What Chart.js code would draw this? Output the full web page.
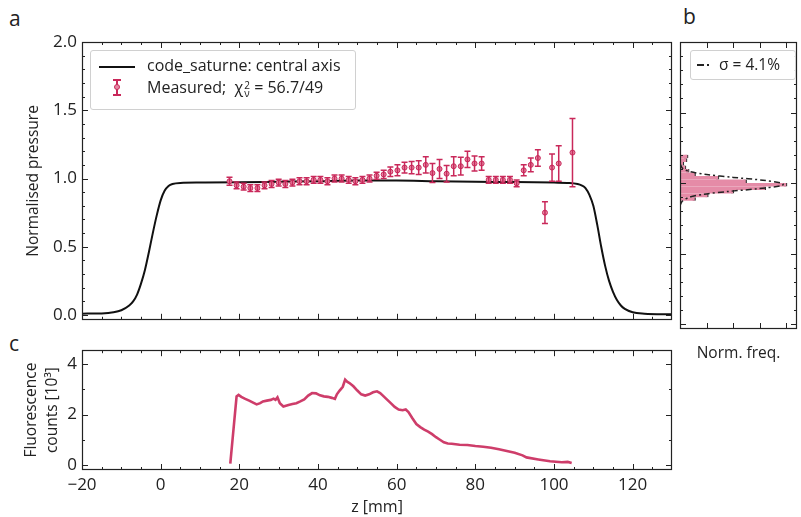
<!DOCTYPE html>
<html lang="en">
<head>
<meta charset="UTF-8" />
<title>Pressure profile and fluorescence</title>
<style>
  body { margin: 0; background: #fff; font-family: "Open Sans", sans-serif; color: #222; }
  #wrap { position: relative; width: 801px; height: 517px; overflow: hidden; }
  .panel { position: absolute; }
  .letter { position: absolute; font-size: 21px; line-height: 1; }
  .legend { position: absolute; background: rgba(255,255,255,0.9); border: 1px solid #d0d0d0; border-radius: 3px; font-size: 16px; }
  .legend .txt { position: absolute; white-space: nowrap; line-height: 1; }
  .ss { display: inline-block; vertical-align: -4px; line-height: 0.8; font-size: 10px; text-align: left; margin-left: 1px; }
  .ss span { display: block; }
</style>
</head>
<body>
<div id="wrap">
  <div class="letter" style="left:9px; top:8px;">a</div>
  <div class="letter" style="left:683px; top:6px;">b</div>
  <div class="letter" style="left:9px; top:333px;">c</div>

  <canvas id="chartA" class="panel" width="680" height="335" style="left:0; top:0;"></canvas>
  <canvas id="chartB" class="panel" width="129" height="335" style="left:672px; top:0;"></canvas>
  <canvas id="chartC" class="panel" width="680" height="182" style="left:0; top:335px;"></canvas>

  <div class="legend" style="left:90px; top:50px; width:264px; height:58px;">
    <div style="position:absolute; left:8px; top:15px; width:36px; height:2px; background:#111;"></div>
    <div class="txt" style="left:56px; top:6px;">code_saturne: central axis</div>
    <div style="position:absolute; left:25px; top:28px; width:1.5px; height:16px; background:#c9285a;"></div>
    <div style="position:absolute; left:22px; top:28px; width:8px; height:1.5px; background:#c9285a;"></div>
    <div style="position:absolute; left:22px; top:43px; width:8px; height:1.5px; background:#c9285a;"></div>
    <div style="position:absolute; left:23px; top:33px; width:4px; height:4px; border:1px solid #c9285a; border-radius:50%; background:#e48aa5;"></div>
    <div class="txt" style="left:56px; top:28px;">Measured;&nbsp; χ<span class="ss"><span>2</span><span>ν</span></span> = 56.7/49</div>
  </div>

  <div class="legend" style="left:690px; top:50px; width:104px; height:28px; font-size:15.5px;">
    <div style="position:absolute; left:6px; top:13px; width:7px; height:1.5px; background:#222;"></div>
    <div style="position:absolute; left:16px; top:13px; width:2px; height:1.5px; background:#222;"></div>
    <div class="txt" style="left:28px; top:6px;">σ = 4.1%</div>
  </div>

  <div style="position:absolute; left:680px; width:117px; top:341px; text-align:center; font-size:15.5px;">Norm. freq.</div>
</div>

<script src="https://cdn.jsdelivr.net/npm/chart.js"></script>
<script>
  // panel a: simulated central-axis profile
  const curveZ = [-20, -15, -12, -10, -8, -7, -6, -5, -4, -3, -2, -1, 0, 1, 2, 3, 5, 10, 20, 30, 40, 50, 60, 70, 80, 90, 100, 104, 106, 107, 108, 109, 110, 111, 112, 113, 114, 115, 116, 117, 118, 120, 123, 130];
  const curveP = [0.01, 0.012, 0.02, 0.035, 0.07, 0.1, 0.15, 0.23, 0.33, 0.46, 0.6, 0.73, 0.84, 0.91, 0.945, 0.96, 0.968, 0.97, 0.972, 0.976, 0.98, 0.985, 0.985, 0.98, 0.976, 0.974, 0.97, 0.968, 0.96, 0.95, 0.93, 0.88, 0.8, 0.66, 0.5, 0.36, 0.25, 0.17, 0.11, 0.07, 0.045, 0.02, 0.01, 0.005];

  // panel a: measured points
  const measZ = [17.5, 19.3, 21.1, 22.8, 24.6, 26.4, 28.2, 30.0, 31.7, 33.5, 35.3, 37.1, 38.9, 40.6, 42.4, 44.2, 46.0, 47.8, 49.5, 51.3, 53.1, 54.9, 56.7, 58.4, 60.2, 62.0, 63.8, 65.6, 67.4, 69.1, 70.9, 72.7, 74.5, 76.3, 78.0, 79.8, 81.6, 83.4, 85.2, 87.0, 88.8, 90.5, 92.3, 94.1, 95.9, 97.7, 99.5, 101.2, 104.7];
  const measP = [0.98, 0.95, 0.94, 0.93, 0.93, 0.95, 0.96, 0.97, 0.96, 0.97, 0.98, 0.98, 0.99, 0.99, 0.98, 1.0, 1.0, 0.99, 0.98, 0.99, 1.0, 1.02, 1.03, 1.05, 1.06, 1.08, 1.08, 1.08, 1.1, 1.04, 1.07, 1.035, 1.09, 1.09, 1.14, 1.11, 1.11, 0.99, 0.99, 0.99, 0.99, 0.965, 1.06, 1.1, 1.15, 0.75, 1.08, 1.11, 1.19];
  const measErr = [0.03, 0.025, 0.025, 0.025, 0.025, 0.025, 0.025, 0.025, 0.025, 0.025, 0.025, 0.025, 0.025, 0.025, 0.025, 0.025, 0.025, 0.025, 0.025, 0.025, 0.025, 0.025, 0.03, 0.035, 0.04, 0.04, 0.045, 0.05, 0.06, 0.07, 0.07, 0.06, 0.07, 0.065, 0.06, 0.055, 0.05, 0.025, 0.025, 0.025, 0.025, 0.025, 0.04, 0.05, 0.06, 0.08, 0.1, 0.13, 0.25];

  // panel b: histogram of measured/simulated and gaussian fit
  const histCentre = [0.8875, 0.9125, 0.9375, 0.9625, 0.9875, 1.0125, 1.0375, 1.0625, 1.0875, 1.1125, 1.1375, 1.1625, 1.1875];
  const histFreq = [0.14, 0.26, 0.5, 0.8, 1.0, 0.62, 0.36, 0.14, 0.08, 0.05, 0.03, 0.06, 0.07];
  const gaussP = [0.84, 0.87, 0.9, 0.92, 0.94, 0.96, 0.98, 0.99, 1.0, 1.02, 1.04, 1.06, 1.08, 1.1, 1.13, 1.16];
  const gaussFreq = [0.0, 0.02, 0.09, 0.22, 0.45, 0.74, 0.95, 0.97, 0.95, 0.78, 0.5, 0.25, 0.1, 0.03, 0.005, 0.0];

  // panel c: fluorescence counts [10^3]
  const fluoZ = [17.7, 19.3, 19.8, 20.5, 21.5, 22.5, 23.5, 24.4, 25.3, 26, 27, 28, 28.7, 29.2, 29.7, 30.3, 31.2, 32.5, 33.5, 34.5, 35.5, 36.5, 37.5, 38.5, 39.5, 40.5, 41.5, 42.5, 43.5, 44.3, 44.8, 45.5, 46.3, 46.9, 47.4, 48, 49, 50, 51, 52, 53, 54, 55, 55.8, 56.5, 57.5, 58.5, 59.5, 60.5, 61.5, 62.3, 63, 64, 65, 66, 67, 68, 69, 70, 71, 72, 73, 74, 75, 76, 78, 80, 82, 84, 86, 88, 90, 92, 93, 96, 99, 102, 103.5, 104.5];
  const fluoC = [0.05, 2.72, 2.78, 2.7, 2.62, 2.55, 2.47, 2.4, 2.45, 2.52, 2.55, 2.58, 2.63, 2.58, 2.68, 2.45, 2.32, 2.38, 2.42, 2.45, 2.52, 2.6, 2.75, 2.85, 2.84, 2.76, 2.72, 2.7, 2.66, 2.62, 2.8, 2.95, 3.1, 3.38, 3.3, 3.25, 3.12, 2.95, 2.8, 2.75, 2.8, 2.88, 2.92, 2.85, 2.75, 2.6, 2.45, 2.3, 2.2, 2.17, 2.2, 2.1, 1.85, 1.62, 1.5, 1.4, 1.32, 1.22, 1.1, 1.0, 0.9, 0.85, 0.84, 0.82, 0.8, 0.79, 0.75, 0.72, 0.68, 0.62, 0.55, 0.48, 0.38, 0.3, 0.22, 0.15, 0.11, 0.12, 0.08];

  // ticks
  const zTicks = [-20, 0, 20, 40, 60, 80, 100, 120];
  const pTicks = [0.0, 0.5, 1.0, 1.5, 2.0];
  const fluoTicks = [0, 2, 4];

  const pink = "#c9285a";
  const ink = "#222";
  Chart.defaults.font.family = "'Open Sans', sans-serif";
  Chart.defaults.color = ink;

  function steps(a, b, s) {
    const out = [];
    for (let v = a; v <= b + 1e-9; v += s) out.push(+v.toFixed(4));
    return out;
  }
  const minus = (v) => (v < 0 ? "\u2212" + Math.abs(v) : "" + v);

  // box round the plot area with inward ticks on all sides
  const framePlugin = {
    id: "frame",
    afterDraw(chart, args, opts) {
      if (!opts || !opts.on) return;
      const { ctx, chartArea: a, scales } = chart;
      ctx.save();
      ctx.strokeStyle = ink;
      ctx.lineWidth = 1;
      const seg = (x1, y1, x2, y2) => { ctx.beginPath(); ctx.moveTo(x1, y1); ctx.lineTo(x2, y2); ctx.stroke(); };
      const xs = (vals, len) => vals.forEach((v) => {
        const x = Math.round(scales.x.getPixelForValue(v)) + 0.5;
        if (x < a.left + 1 || x > a.right - 1) return;
        seg(x, a.bottom, x, a.bottom - len);
        seg(x, a.top, x, a.top + len);
      });
      const ys = (vals, len) => vals.forEach((v) => {
        const y = Math.round(scales.y.getPixelForValue(v)) + 0.5;
        if (y < a.top + 1 || y > a.bottom - 1) return;
        seg(a.left, y, a.left + len, y);
        seg(a.right, y, a.right - len, y);
      });
      xs(opts.xMinor || [], 3);
      xs(opts.xMajor || [], 6);
      ys(opts.yMinor || [], 3);
      ys(opts.yMajor || [], 6);
      ctx.lineWidth = 1.2;
      ctx.strokeRect(Math.round(a.left) + 0.5, Math.round(a.top) + 0.5, Math.round(a.width) - 1, Math.round(a.height) - 1);
      ctx.restore();
    }
  };

  // vertical error bars with caps for the measured set
  const errorPlugin = {
    id: "errbars",
    afterDatasetsDraw(chart, args, opts) {
      if (!opts || !opts.on) return;
      const { ctx, scales } = chart;
      ctx.save();
      ctx.strokeStyle = pink;
      ctx.lineWidth = 1.5;
      measZ.forEach((z, i) => {
        const x = scales.x.getPixelForValue(z);
        const y1 = scales.y.getPixelForValue(measP[i] - measErr[i]);
        const y2 = scales.y.getPixelForValue(measP[i] + measErr[i]);
        ctx.beginPath();
        ctx.moveTo(x, y1); ctx.lineTo(x, y2);
        ctx.moveTo(x - 3, y1); ctx.lineTo(x + 3, y1);
        ctx.moveTo(x - 3, y2); ctx.lineTo(x + 3, y2);
        ctx.stroke();
      });
      ctx.restore();
    }
  };

  Chart.register(framePlugin, errorPlugin);

  const baseY = (ticks, width, fmt) => ({
    grid: { display: false, drawTicks: false },
    border: { display: false },
    afterBuildTicks: (s) => { s.ticks = ticks.map((v) => ({ value: v })); },
    afterFit: (s) => { s.width = width; },
    ticks: { padding: 5, font: { size: 17 }, color: ink, callback: fmt }
  });

  // panel a
  new Chart(document.getElementById("chartA"), {
    type: "line",
    data: {
      datasets: [
        {
          type: "scatter",
          label: "Measured",
          data: measZ.map((z, i) => ({ x: z, y: measP[i] })),
          showLine: false,
          pointRadius: 2.5,
          pointBackgroundColor: "#e48aa5",
          pointBorderColor: pink,
          pointBorderWidth: 1,
          order: 0
        },
        {
          label: "code_saturne: central axis",
          data: curveZ.map((z, i) => ({ x: z, y: curveP[i] })),
          borderColor: "#111",
          borderWidth: 2,
          pointRadius: 0,
          cubicInterpolationMode: "monotone",
          order: 1
        }
      ]
    },
    options: {
      responsive: false,
      animation: false,
      layout: { padding: { left: 24, right: 8, top: 42, bottom: 6 } },
      plugins: {
        legend: { display: false },
        tooltip: { enabled: false },
        errbars: { on: true },
        frame: { on: true, xMajor: zTicks, xMinor: steps(-20, 130, 5), yMajor: pTicks, yMinor: steps(0, 2, 0.1) }
      },
      scales: {
        x: { type: "linear", min: -20, max: 130, display: false },
        y: Object.assign(baseY(pTicks, 58, (v) => v.toFixed(1)), {
          min: -0.035,
          max: 2.0,
          title: { display: true, text: "Normalised pressure", font: { size: 15.5 }, padding: 0 }
        })
      }
    }
  });

  // panel b
  new Chart(document.getElementById("chartB"), {
    type: "bar",
    data: {
      datasets: [
        {
          label: "hist",
          data: histCentre.map((p, i) => ({ x: histFreq[i], y: p })),
          backgroundColor: "#e58ba7",
          borderColor: "#333",
          borderWidth: { top: 0, bottom: 0, left: 0, right: 1.2 },
          borderSkipped: false,
          inflateAmount: 1,
          barPercentage: 1,
          categoryPercentage: 1,
          order: 1
        },
        {
          type: "line",
          label: "σ = 4.1%",
          data: gaussP.map((p, i) => ({ x: gaussFreq[i], y: p })),
          borderColor: "#222",
          borderWidth: 1.5,
          borderDash: [6, 3, 2, 3],
          pointRadius: 0,
          tension: 0.3,
          order: 0
        }
      ]
    },
    options: {
      indexAxis: "y",
      responsive: false,
      animation: false,
      layout: { padding: { left: 8, right: 4, top: 42, bottom: 6 } },
      plugins: {
        legend: { display: false },
        tooltip: { enabled: false },
        frame: { on: true, xMajor: [0.25, 0.5, 0.75, 1.0], xMinor: [], yMajor: pTicks, yMinor: steps(0, 2, 0.1) }
      },
      scales: {
        x: { type: "linear", min: 0, max: 1.1, offset: false, display: false },
        y: { type: "linear", min: -0.035, max: 2.0, offset: false, display: false }
      }
    }
  });

  // panel c
  new Chart(document.getElementById("chartC"), {
    type: "line",
    data: {
      datasets: [
        {
          label: "Fluorescence",
          data: fluoZ.map((z, i) => ({ x: z, y: fluoC[i] })),
          borderColor: "rgba(201, 40, 90, 0.9)",
          borderWidth: 2.6,
          pointRadius: 0,
          tension: 0
        }
      ]
    },
    options: {
      responsive: false,
      animation: false,
      layout: { padding: { left: 22, right: 8, top: 5, bottom: 0 } },
      plugins: {
        legend: { display: false },
        tooltip: { enabled: false },
        frame: { on: true, xMajor: zTicks, xMinor: steps(-20, 130, 5), yMajor: fluoTicks, yMinor: steps(0, 4, 1) }
      },
      scales: {
        x: {
          type: "linear",
          min: -20,
          max: 130,
          grid: { display: false, drawTicks: false },
          border: { display: false },
          afterBuildTicks: (s) => { s.ticks = zTicks.map((v) => ({ value: v })); },
          afterFit: (s) => { s.height = 47; },
          ticks: { padding: 5, font: { size: 17 }, color: ink, maxRotation: 0, callback: minus },
          title: { display: true, text: "z [mm]", font: { size: 16 }, padding: 0 }
        },
        y: Object.assign(baseY(fluoTicks, 60, (v) => "" + v), {
          min: -0.2,
          max: 4.55,
          title: { display: true, text: ["Fluorescence", "counts [10³]"], font: { size: 15.5, lineHeight: 1.3 }, padding: 0 }
        })
      }
    }
  });
</script>
</body>
</html>
